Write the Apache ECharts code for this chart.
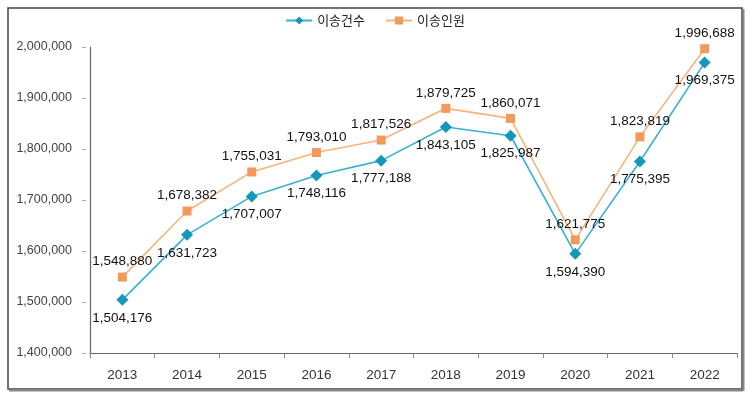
<!DOCTYPE html>
<html><head><meta charset="utf-8">
<script src="https://cdn.jsdelivr.net/npm/echarts@6/dist/echarts.min.js"></script>
<style>html,body{margin:0;padding:0;background:#fff;}#c{width:750px;height:394px;}</style>
</head><body><div id="c"></div>
<script>
var years = ['2013','2014','2015','2016','2017','2018','2019','2020','2021','2022'];
var cases = [1504176,1631723,1707007,1748116,1777188,1843105,1825987,1594390,1775395,1969375];
var persons = [1548880,1678382,1755031,1793010,1817526,1879725,1860071,1621775,1823819,1996688];
var seriesNames = ['이송건수','이송인원'];

var chart = echarts.init(document.getElementById('c'));
var fmt = function(v){ return Number(v).toLocaleString('en-US'); };
var font = 'Liberation Sans, Arial, sans-serif';
chart.setOption({
  animation:false,
  textStyle:{fontFamily:font},
  legend:{top:9,left:'center',itemWidth:26,itemHeight:10,itemGap:20,
    textStyle:{fontSize:13,color:'#222',fontFamily:'Noto Sans CJK KR, sans-serif'},
    data:seriesNames},
  grid:{left:90,right:13,top:47,bottom:41},
  xAxis:{type:'category',data:years,boundaryGap:true,
    axisLine:{lineStyle:{color:'#666',width:1.2}},
    axisTick:{show:true,length:5,lineStyle:{color:'#888'}},
    axisLabel:{color:'#333',fontSize:13.5,margin:15}},
  yAxis:[
    {type:'value',min:1400000,max:2000000,interval:100000,
     axisLine:{show:true,lineStyle:{color:'#666',width:1.2}},
     axisTick:{show:false},splitLine:{show:false},axisLabel:{show:false}},
    {type:'value',min:1400000,max:2000000,interval:100000,offset:4,position:'left',
     axisLine:{show:false},
     axisTick:{show:true,length:4,lineStyle:{color:'#aaa'}},
     splitLine:{show:false},
     axisLabel:{color:'#444',fontSize:12.5,margin:14,formatter:fmt}}
  ],
  series:[
    {name:seriesNames[0],type:'line',data:cases,symbol:'diamond',symbolSize:12,
     lineStyle:{color:'#36b3d3',width:1.6},itemStyle:{color:'#1597bb'},
     label:{show:true,position:'bottom',distance:5,color:'#111',fontSize:13.5,formatter:function(p){return fmt(p.value);}}},
    {name:seriesNames[1],type:'line',data:persons,symbol:'rect',symbolSize:9,
     lineStyle:{color:'#f7b47a',width:1.6},itemStyle:{color:'#f19a5c'},
     label:{show:true,position:'top',distance:4,color:'#111',fontSize:13.5,formatter:function(p){return fmt(p.value);}}}
  ],
  graphic:[
    {type:'rect',shape:{x:8,y:8,width:734,height:381},style:{fill:'none',stroke:'#444',lineWidth:1.5},z:-1},
    {type:'line',shape:{x1:9,y1:390.5,x2:743,y2:390.5},style:{stroke:'#888',lineWidth:2}},
    {type:'line',shape:{x1:743.5,y1:9,x2:743.5,y2:391},style:{stroke:'#888',lineWidth:2}}
  ]
});
</script></body></html>
